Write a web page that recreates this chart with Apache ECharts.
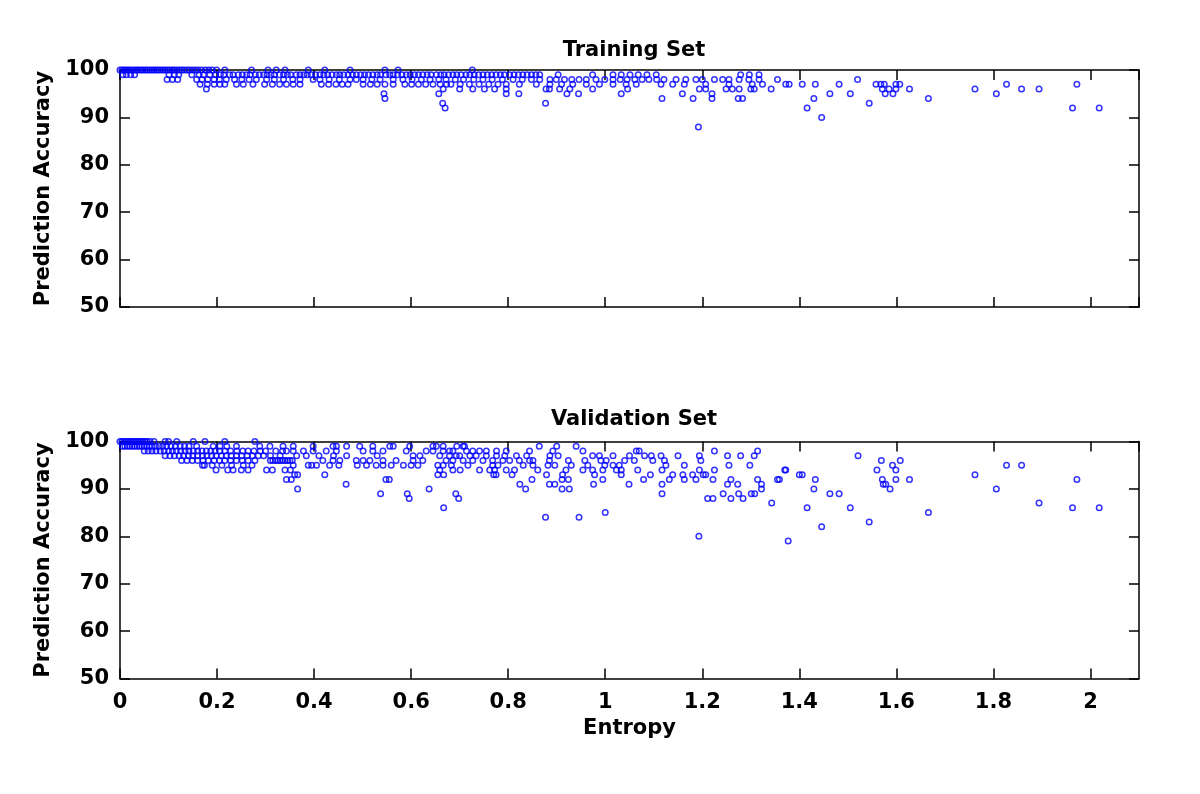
<!DOCTYPE html>
<html>
<head>
<meta charset="utf-8">
<script src="https://cdn.jsdelivr.net/npm/echarts@6/dist/echarts.min.js"></script>
<style>
html,body{margin:0;padding:0;background:#fff;}
#chart{width:1200px;height:794px;}
</style>
</head>
<body>
<div id="chart"></div>
<script>
// ---- Data ----
const xTicks = [0, 0.2, 0.4, 0.6, 0.8, 1, 1.2, 1.4, 1.6, 1.8, 2];
const yTicks = [50, 60, 70, 80, 90, 100];

// Training set: entropy values grouped by prediction accuracy level
const train100 = [0, 0.004, 0.008, 0.012, 0.016, 0.02, 0.025, 0.03, 0.034, 0.038, 0.043, 0.047, 0.052, 0.056, 0.061, 0.066, 0.07, 0.075, 0.079, 0.084, 0.089, 0.093, 0.098, 0.103, 0.108, 0.112, 0.117, 0.122, 0.127, 0.132, 0.138, 0.143, 0.149, 0.155, 0.161, 0.168, 0.176, 0.183, 0.19, 0.199, 0.216, 0.271, 0.305, 0.322, 0.34, 0.388, 0.422, 0.474, 0.546, 0.573, 0.726];
const train99 = [0.006, 0.013, 0.022, 0.03, 0.101, 0.112, 0.121, 0.148, 0.163, 0.172, 0.185, 0.197, 0.207, 0.214, 0.226, 0.233, 0.244, 0.252, 0.261, 0.268, 0.279, 0.287, 0.296, 0.303, 0.311, 0.318, 0.329, 0.337, 0.345, 0.352, 0.363, 0.371, 0.379, 0.386, 0.394, 0.403, 0.412, 0.42, 0.428, 0.437, 0.446, 0.453, 0.461, 0.47, 0.479, 0.487, 0.496, 0.504, 0.512, 0.521, 0.53, 0.537, 0.548, 0.556, 0.563, 0.572, 0.581, 0.59, 0.598, 0.607, 0.615, 0.624, 0.633, 0.641, 0.652, 0.661, 0.668, 0.677, 0.686, 0.694, 0.703, 0.713, 0.721, 0.73, 0.739, 0.748, 0.757, 0.766, 0.775, 0.784, 0.792, 0.803, 0.812, 0.821, 0.83, 0.839, 0.848, 0.857, 0.865, 0.903, 0.974, 1.016, 1.033, 1.051, 1.068, 1.086, 1.105, 1.279, 1.297, 1.317];
const train98 = [0.097, 0.108, 0.119, 0.158, 0.169, 0.181, 0.194, 0.205, 0.219, 0.236, 0.251, 0.266, 0.281, 0.302, 0.318, 0.337, 0.356, 0.371, 0.398, 0.412, 0.431, 0.452, 0.474, 0.487, 0.501, 0.519, 0.536, 0.563, 0.583, 0.602, 0.621, 0.639, 0.657, 0.672, 0.691, 0.708, 0.729, 0.748, 0.767, 0.788, 0.81, 0.829, 0.848, 0.865, 0.886, 0.899, 0.916, 0.931, 0.946, 0.961, 0.981, 0.999, 1.016, 1.031, 1.045, 1.061, 1.076, 1.09, 1.106, 1.121, 1.146, 1.166, 1.187, 1.2, 1.225, 1.242, 1.255, 1.276, 1.296, 1.317, 1.355, 1.52];
const train97 = [0.165, 0.18, 0.194, 0.206, 0.216, 0.24, 0.254, 0.274, 0.298, 0.314, 0.329, 0.343, 0.357, 0.371, 0.415, 0.43, 0.445, 0.458, 0.47, 0.501, 0.516, 0.53, 0.546, 0.563, 0.587, 0.601, 0.615, 0.63, 0.645, 0.66, 0.673, 0.682, 0.701, 0.72, 0.74, 0.76, 0.779, 0.796, 0.823, 0.858, 0.886, 0.91, 0.933, 0.961, 0.988, 1.016, 1.043, 1.064, 1.115, 1.139, 1.163, 1.207, 1.255, 1.303, 1.324, 1.372, 1.379, 1.406, 1.433, 1.482, 1.558, 1.568, 1.575, 1.599, 1.607, 1.827, 1.972];
const train96 = [0.178, 0.666, 0.7, 0.727, 0.751, 0.772, 0.796, 0.878, 0.885, 0.906, 0.927, 0.974, 1.046, 1.194, 1.207, 1.249, 1.262, 1.276, 1.3, 1.307, 1.342, 1.571, 1.585, 1.599, 1.627, 1.762, 1.858, 1.894];
const train95 = [0.544, 0.657, 0.796, 0.822, 0.921, 0.945, 1.033, 1.159, 1.22, 1.463, 1.505, 1.577, 1.593, 1.806];
const train94 = [0.546, 1.117, 1.181, 1.22, 1.274, 1.283, 1.43, 1.666];
const train93 = [0.665, 0.877, 1.544];
const train92 = [0.67, 1.416, 1.963, 2.018];
const train90 = [1.446];
const train88 = [1.192];

// Validation set
const val100 = [0, 0.004, 0.008, 0.012, 0.016, 0.02, 0.024, 0.028, 0.032, 0.036, 0.04, 0.044, 0.048, 0.052, 0.056, 0.062, 0.07, 0.093, 0.1, 0.117, 0.151, 0.175, 0.216, 0.278];
const val99 = [0.005, 0.01, 0.015, 0.02, 0.025, 0.03, 0.035, 0.04, 0.045, 0.05, 0.055, 0.06, 0.066, 0.073, 0.081, 0.088, 0.096, 0.105, 0.114, 0.124, 0.133, 0.142, 0.158, 0.192, 0.206, 0.22, 0.24, 0.288, 0.309, 0.336, 0.357, 0.398, 0.439, 0.446, 0.467, 0.494, 0.521, 0.556, 0.563, 0.597, 0.645, 0.652, 0.666, 0.694, 0.707, 0.71, 0.864, 0.9, 0.94];
const val98 = [0.05, 0.058, 0.066, 0.074, 0.083, 0.091, 0.1, 0.108, 0.116, 0.125, 0.134, 0.142, 0.151, 0.16, 0.169, 0.178, 0.187, 0.196, 0.206, 0.216, 0.228, 0.241, 0.253, 0.264, 0.276, 0.289, 0.3, 0.321, 0.335, 0.343, 0.357, 0.378, 0.398, 0.425, 0.446, 0.501, 0.521, 0.542, 0.59, 0.631, 0.645, 0.666, 0.679, 0.686, 0.714, 0.727, 0.741, 0.755, 0.776, 0.796, 0.844, 0.892, 0.954, 1.064, 1.07, 1.225, 1.314];
const val97 = [0.093, 0.103, 0.112, 0.122, 0.131, 0.141, 0.15, 0.16, 0.17, 0.179, 0.189, 0.198, 0.209, 0.219, 0.229, 0.24, 0.251, 0.262, 0.273, 0.285, 0.296, 0.31, 0.33, 0.364, 0.384, 0.41, 0.44, 0.467, 0.53, 0.604, 0.618, 0.659, 0.679, 0.693, 0.7, 0.721, 0.734, 0.755, 0.776, 0.793, 0.817, 0.838, 0.886, 0.903, 0.974, 0.988, 1.016, 1.05, 1.081, 1.095, 1.115, 1.15, 1.194, 1.252, 1.279, 1.307, 1.521];
const val96 = [0.127, 0.138, 0.149, 0.16, 0.171, 0.182, 0.194, 0.205, 0.216, 0.228, 0.24, 0.252, 0.264, 0.278, 0.31, 0.315, 0.32, 0.325, 0.33, 0.335, 0.34, 0.345, 0.35, 0.355, 0.418, 0.439, 0.453, 0.487, 0.501, 0.515, 0.542, 0.569, 0.604, 0.624, 0.672, 0.686, 0.707, 0.727, 0.748, 0.768, 0.789, 0.803, 0.823, 0.844, 0.851, 0.885, 0.924, 0.958, 0.991, 1.002, 1.04, 1.06, 1.098, 1.122, 1.197, 1.569, 1.608];
const val95 = [0.17, 0.174, 0.19, 0.21, 0.23, 0.254, 0.272, 0.357, 0.388, 0.395, 0.405, 0.432, 0.451, 0.489, 0.508, 0.528, 0.542, 0.559, 0.584, 0.6, 0.614, 0.655, 0.666, 0.683, 0.717, 0.768, 0.779, 0.831, 0.851, 0.882, 0.896, 0.93, 0.964, 0.999, 1.016, 1.029, 1.125, 1.163, 1.255, 1.298, 1.592, 1.827, 1.858];
const val94 = [0.198, 0.222, 0.233, 0.25, 0.264, 0.302, 0.314, 0.34, 0.351, 0.659, 0.686, 0.701, 0.741, 0.762, 0.772, 0.796, 0.813, 0.861, 0.919, 0.954, 0.974, 0.995, 1.023, 1.033, 1.067, 1.117, 1.194, 1.225, 1.37, 1.372, 1.56, 1.599];
const val93 = [0.36, 0.366, 0.422, 0.655, 0.667, 0.77, 0.775, 0.808, 0.879, 0.912, 0.978, 1.033, 1.093, 1.139, 1.16, 1.18, 1.202, 1.207, 1.4, 1.406, 1.762];
const val92 = [0.343, 0.353, 0.548, 0.555, 0.849, 0.911, 0.924, 0.995, 1.079, 1.132, 1.163, 1.187, 1.222, 1.259, 1.314, 1.355, 1.359, 1.433, 1.571, 1.599, 1.627, 1.972];
const val91 = [0.466, 0.824, 0.885, 0.896, 0.976, 1.049, 1.117, 1.252, 1.273, 1.322, 1.573, 1.578];
const val90 = [0.366, 0.637, 0.836, 0.911, 0.926, 1.322, 1.43, 1.587, 1.806];
const val89 = [0.537, 0.592, 0.692, 1.117, 1.243, 1.275, 1.301, 1.308, 1.463, 1.482];
const val88 = [0.596, 0.698, 1.211, 1.222, 1.259, 1.284];
const val87 = [1.343, 1.894];
const val86 = [0.667, 1.416, 1.505, 1.963, 2.018];
const val85 = [1.0, 1.666];
const val84 = [0.877, 0.946];
const val83 = [1.544];
const val82 = [1.446];
const val80 = [1.193];
const val79 = [1.377];

const trainRows = [[100, train100], [99, train99], [98, train98], [97, train97], [96, train96], [95, train95], [94, train94], [93, train93], [92, train92], [90, train90], [88, train88]];
const valRows = [[100, val100], [99, val99], [98, val98], [97, val97], [96, val96], [95, val95], [94, val94], [93, val93], [92, val92], [91, val91], [90, val90], [89, val89], [88, val88], [87, val87], [86, val86], [85, val85], [84, val84], [83, val83], [82, val82], [80, val80], [79, val79]];

function toPoints(rows) {
  const pts = [];
  rows.forEach(function (r) { r[1].forEach(function (x) { pts.push([x, r[0]]); }); });
  return pts;
}

// ---- Styling ----
const FONT = 'DejaVu Sans';
const FS = 21;
const FW = 'bold';
const lineStyle = { color: '#000', width: 1.5 };
const tickStyle = { show: true, inside: true, length: 10, lineStyle: lineStyle };
const txt = { color: '#000', fontFamily: FONT, fontSize: FS, fontWeight: FW };

function xAx(grid, pos, withLabels) {
  const a = {
    gridIndex: grid, type: 'value', position: pos, min: 0, max: 2.1, interval: 0.2,
    axisLine: { show: true, onZero: false, lineStyle: lineStyle },
    axisTick: tickStyle,
    splitLine: { show: false },
    axisLabel: Object.assign({
      show: withLabels, margin: 14, showMaxLabel: false,
      formatter: function (v) {
        const r = Math.round(v * 10) / 10;
        return xTicks.indexOf(r) >= 0 ? String(r) : '';
      }
    }, txt)
  };
  if (withLabels) {
    a.name = 'Entropy'; a.nameLocation = 'middle'; a.nameGap = 40;
    a.nameTextStyle = txt;
  }
  return a;
}
function yAx(grid, pos, withLabels) {
  return {
    gridIndex: grid, type: 'value', position: pos, min: yTicks[0], max: yTicks[yTicks.length - 1], interval: 10,
    axisLine: { show: true, onZero: false, lineStyle: lineStyle },
    axisTick: tickStyle,
    splitLine: { show: false },
    axisLabel: Object.assign({ show: withLabels, margin: 11 }, txt),
    name: withLabels ? 'Prediction Accuracy' : '',
    nameLocation: 'middle', nameGap: 53,
    nameTextStyle: txt
  };
}
const marker = { color: 'rgba(0,0,0,0)', borderColor: '#0000ff', borderWidth: 1.5 };

const chart = echarts.init(document.getElementById('chart'), null, { renderer: 'canvas' });
chart.setOption({
  animation: false,
  backgroundColor: '#fff',
  title: [
    { text: 'Training Set', left: 629, top: 35, textAlign: 'center', textStyle: txt },
    { text: 'Validation Set', left: 629, top: 404, textAlign: 'center', textStyle: txt }
  ],
  grid: [
    { left: 120, top: 70, width: 1019, height: 237, containLabel: false },
    { left: 120, top: 441.5, width: 1019, height: 237, containLabel: false }
  ],
  xAxis: [xAx(0, 'bottom', false), xAx(0, 'top', false), xAx(1, 'bottom', true), xAx(1, 'top', false)],
  yAxis: [yAx(0, 'left', true), yAx(0, 'right', false), yAx(1, 'left', true), yAx(1, 'right', false)],
  series: [
    { type: 'scatter', xAxisIndex: 0, yAxisIndex: 0, symbol: 'circle', symbolSize: 5.5,
      itemStyle: marker, data: toPoints(trainRows), silent: true },
    { type: 'scatter', xAxisIndex: 2, yAxisIndex: 2, symbol: 'circle', symbolSize: 5.5,
      itemStyle: marker, data: toPoints(valRows), silent: true }
  ]
});
</script>
</body>
</html>
